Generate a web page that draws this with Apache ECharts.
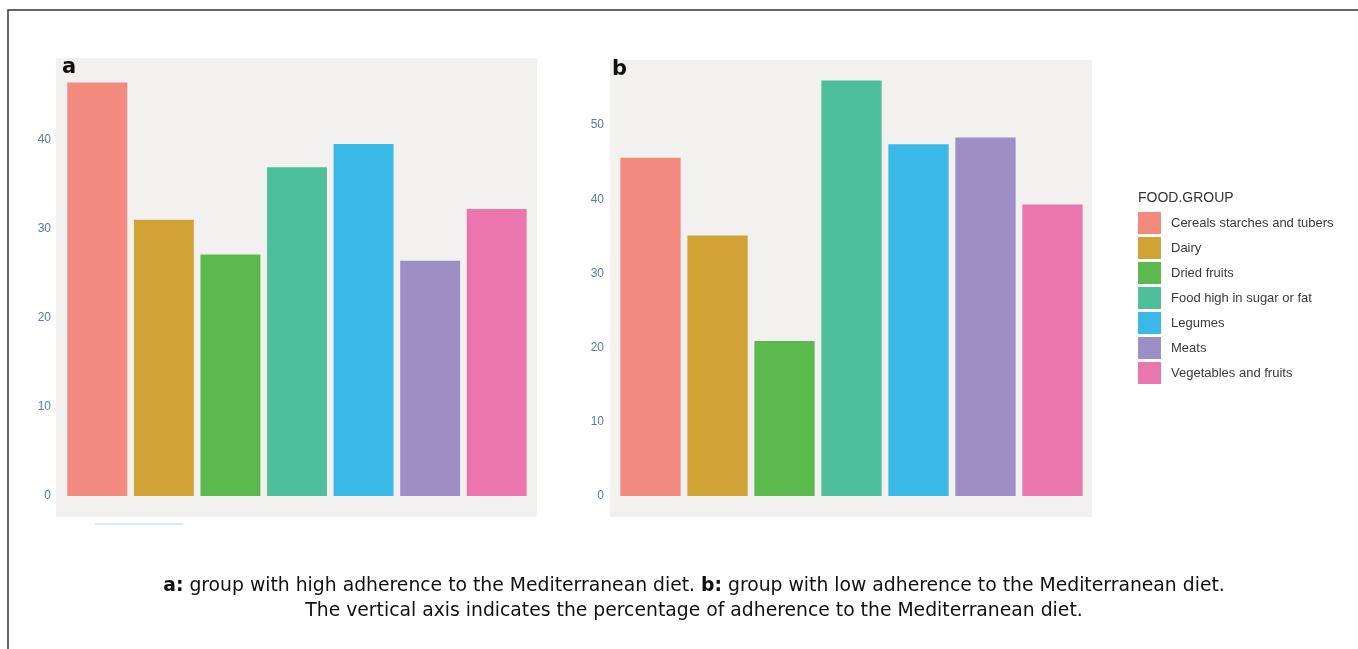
<!DOCTYPE html>
<html>
<head>
<meta charset="utf-8">
<script src="https://cdn.jsdelivr.net/npm/echarts@6/dist/echarts.min.js"></script>
<style>html,body{margin:0;padding:0;background:#fff}#c{width:1358px;height:649px}</style>
</head>
<body>
<div id="c"></div>
<script>
const categories = ['Cereals starches and tubers','Dairy','Dried fruits','Food high in sugar or fat','Legumes','Meats','Vegetables and fruits'];
const valuesA = [46.4, 31.0, 27.1, 36.9, 39.5, 26.4, 32.2];
const valuesB = [45.6, 35.1, 20.9, 56.0, 47.4, 48.3, 39.3];
const ticksA = [0, 10, 20, 30, 40];
const ticksB = [0, 10, 20, 30, 40, 50];
const colors = ['#F38A80','#D1A336','#5CB94D','#4EBF9B','#3AB9E8','#9D8FC5','#EA76AD'];
const legendTitle = 'FOOD.GROUP';
const captionLine1 = ['a:', ' group with high adherence to the Mediterranean diet. ', 'b:', ' group with low adherence to the Mediterranean diet.'];
const captionLine2 = 'The vertical axis indicates the percentage of adherence to the Mediterranean diet.';

const chart = echarts.init(document.getElementById('c'));
const bg = '#F2F1F0';
const labelStyle = {color:'#5A7F9C', fontSize:12, fontFamily:'Liberation Sans, Arial, sans-serif', margin:13};

function ySpec(gridIndex, max, ticks){
  return {type:'value', gridIndex, min:0, max, interval:10,
    axisLine:{show:false}, axisTick:{show:false}, splitLine:{show:false},
    axisLabel:Object.assign({}, labelStyle, {showMaxLabel:false,
      formatter: v => ticks.indexOf(v) >= 0 ? String(v) : ''})};
}
function xSpec(gridIndex){
  return {type:'category', gridIndex, data:categories, boundaryGap:true,
    axisLine:{show:false}, axisTick:{show:false}, axisLabel:{show:false}, splitLine:{show:false}};
}
function hidden(gridIndex){ return {type:'value', gridIndex, show:false, min:0, max:1}; }

const series = [];
[[valuesA, 1, 'A'], [valuesB, 3, 'B']].forEach(([vals, gi, st]) => {
  categories.forEach((name, i) => {
    series.push({
      type:'bar', name, stack:st, xAxisIndex:gi, yAxisIndex:gi,
      barCategoryGap:'10%', itemStyle:{color:colors[i]},
      emphasis:{disabled:true},
      data: vals.map((v, j) => j === i ? v : null)
    });
  });
});

const capFont = 'DejaVu Sans, Verdana, sans-serif';
const option = {
  backgroundColor:'#ffffff',
  animation:false,
  grid:[
    {left:56, top:58, width:481, height:459, show:true, backgroundColor:bg, borderWidth:0},
    {left:64, top:62, width:466, height:434},
    {left:610, top:60, width:482, height:457, show:true, backgroundColor:bg, borderWidth:0},
    {left:617, top:60, width:469, height:436}
  ],
  xAxis:[hidden(0), xSpec(1), hidden(2), xSpec(3)],
  yAxis:[hidden(0), ySpec(1, 48.7, ticksA), hidden(2), ySpec(3, 58.76, ticksB)],
  legend:{
    orient:'vertical', left:1133, top:207, itemWidth:23, itemHeight:22, itemGap:3,
    icon:'rect', data:categories, selectedMode:false,
    textStyle:{color:'#3a3a3a', fontSize:13, fontFamily:'Liberation Sans, Arial, sans-serif', padding:[0,0,0,5]}
  },
  title:[
    {text:legendTitle, left:1133, top:186, textStyle:{fontSize:14, fontWeight:'normal', color:'#333', fontFamily:'Liberation Sans, Arial, sans-serif'}},
    {text:'a', left:57, top:52, textStyle:{fontSize:21, fontWeight:'bold', color:'#111', fontFamily:'DejaVu Sans, sans-serif'}},
    {text:'b', left:607, top:54, textStyle:{fontSize:21, fontWeight:'bold', color:'#111', fontFamily:'DejaVu Sans, sans-serif'}},
    {text:'{b|' + captionLine1[0] + '}{n|' + captionLine1[1] + '}{b|' + captionLine1[2] + '}{n|' + captionLine1[3] + '}\n{n|' + captionLine2 + '}',
     left:689, top:569, textAlign:'center',
     textStyle:{fontWeight:'normal', rich:{
       b:{fontSize:18.8, fontWeight:'bold', color:'#111', fontFamily:capFont, lineHeight:25},
       n:{fontSize:18.8, fontWeight:'normal', color:'#111', fontFamily:capFont, lineHeight:25}
     }}}
  ],
  graphic:[
    {type:'polyline', shape:{points:[[8,649],[8,10],[1358,10]]}, style:{stroke:'#333', lineWidth:1.5, fill:null}},
    {type:'line', shape:{x1:95, y1:524, x2:183, y2:524}, style:{stroke:'#cfe6f7', lineWidth:1.5}}
  ],
  series
};
chart.setOption(option);
</script>
</body>
</html>
